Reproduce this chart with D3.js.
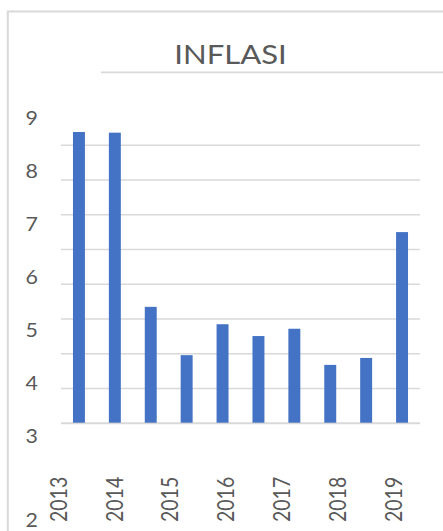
<!DOCTYPE html>
<html>
<head>
<meta charset="utf-8">
<script src="https://cdn.jsdelivr.net/npm/d3@7"></script>
<style>
  html, body { margin: 0; padding: 0; background: #fff; }
  svg { display: block; }
  text { font-family: Lato, "Open Sans", sans-serif; fill: #595959; }
</style>
</head>
<body>
<div id="chart"></div>
<script>
// Inflation values per bar (percent)
const barValues = [8.38, 8.36, 3.35, 1.96, 2.85, 2.51, 2.72, 1.68, 1.88, 5.50];
// Category labels shown along the bottom
const yearLabels = ["2013", "2014", "2015", "2016", "2017", "2018", "2019"];
// Value-axis tick labels
const axisLabels = [9, 8, 7, 6, 5, 4, 3, 2];
// Gridline values
const gridValues = [0, 1, 2, 3, 4, 5, 6, 7, 8];
const chartTitle = "INFLASI";

const W = 443, H = 531;
const stretch = 1.15;          // horizontal glyph widening
const grey = "#d9d9d9";

const svg = d3.select("#chart").append("svg")
  .attr("width", W).attr("height", H);

svg.append("rect").attr("width", W).attr("height", H).attr("fill", "#fff");

// chart frame (left and top edges visible)
svg.append("path")
  .attr("d", `M7.8,${H + 2} V11.6 H${W + 2}`)
  .attr("fill", "none").attr("stroke", grey).attr("stroke-width", 2);

// title with rule underneath
svg.append("text")
  .attr("transform", `translate(230.5,64.3) scale(${stretch},1)`)
  .attr("text-anchor", "middle")
  .style("font-size", "27px")
  .text(chartTitle);
svg.append("line")
  .attr("x1", 101).attr("x2", W + 2).attr("y1", 72.3).attr("y2", 72.3)
  .attr("stroke", grey).attr("stroke-width", 1.8);

// scales
const y = d3.scaleLinear().domain([0, 8]).range([423.3, 145.2]);
const x = d3.scaleBand()
  .domain(d3.range(barValues.length))
  .range([61, 420])
  .paddingInner(0.667)
  .paddingOuter(0.3335);
const labelY = d3.scaleLinear().domain([9, 3, 2]).range([118.3, 436, 520.5]);
const labelX = d3.scalePoint().domain(yearLabels).range([58.5, 393.5]);

// gridlines
svg.append("g").selectAll("line").data(gridValues).join("line")
  .attr("x1", 61).attr("x2", 420)
  .attr("y1", d => y(d)).attr("y2", d => y(d))
  .attr("stroke", grey)
  .attr("stroke-width", d => d === 0 ? 2 : 1.6);

// bars
svg.append("g").selectAll("rect").data(barValues).join("rect")
  .attr("x", (d, i) => x(i))
  .attr("width", x.bandwidth())
  .attr("y", d => y(d))
  .attr("height", d => y(0) - 0.6 - y(d))
  .attr("fill", "#4472C4");

// value-axis labels
svg.append("g").selectAll("text").data(axisLabels).join("text")
  .attr("transform", d => `translate(31.6,${labelY(d) + 6.7}) scale(${stretch},1)`)
  .attr("text-anchor", "middle")
  .style("font-size", "18.6px")
  .text(d => d);

// category labels, rotated to read upward
svg.append("g").selectAll("text").data(yearLabels).join("text")
  .attr("transform", d => `translate(${labelX(d) + 8.3},522) rotate(-90) scale(0.96,${stretch})`)
  .attr("text-anchor", "start")
  .style("font-size", "20.3px")
  .text(d => d);
</script>
</body>
</html>
